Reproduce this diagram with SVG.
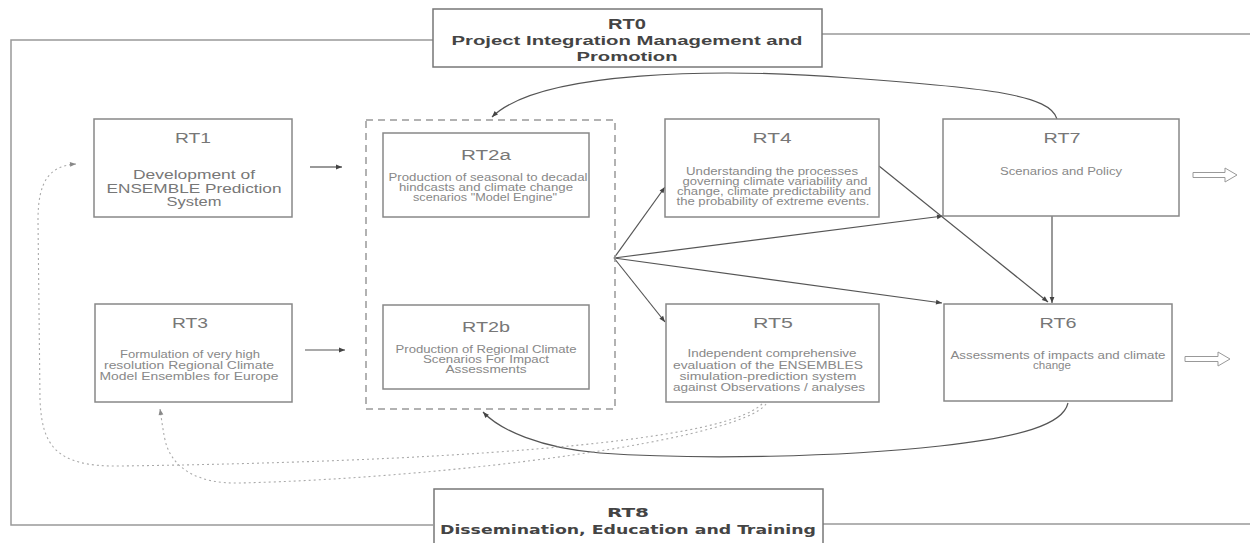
<svg xmlns="http://www.w3.org/2000/svg" width="1250" height="543" viewBox="0 0 1250 543">
<defs>
<style>
.box{fill:#fff;stroke:#888;stroke-width:1.5}
.bigbox{fill:#fff;stroke:#777;stroke-width:1.5}
.grp{fill:none;stroke:#999;stroke-width:1.5;stroke-dasharray:7,5}
.frame{fill:none;stroke:#999;stroke-width:1.5}
.t{font-family:"Liberation Sans",Arial,sans-serif;fill:#777;text-anchor:middle}
.title{font-size:14px}
.body{font-size:10px;fill:#888}
.bold{font-family:"Liberation Sans",Arial,sans-serif;font-weight:bold;fill:#444;text-anchor:middle}
.narrow{font-family:"Liberation Sans Narrow","DejaVu Sans Condensed",Arial,sans-serif;font-weight:bold;fill:#444;text-anchor:middle}
.con{fill:none;stroke:#555;stroke-width:1.2}
.dot{fill:none;stroke:#aaa;stroke-width:1.1;stroke-dasharray:2,3}
.hollow{fill:#fff;stroke:#999;stroke-width:1}
</style>
<marker id="ah" viewBox="0 0 10 10" refX="10" refY="5" markerWidth="9" markerHeight="6" markerUnits="userSpaceOnUse" orient="auto"><path d="M0,1 L10,5 L0,9 z" fill="#444"/></marker>
<marker id="ahl" viewBox="0 0 10 10" refX="10" refY="5" markerWidth="8" markerHeight="6" markerUnits="userSpaceOnUse" orient="auto"><path d="M0,1 L10,5 L0,9 z" fill="#888"/></marker>
</defs>
<rect width="1250" height="543" fill="#fff"/>

<g id="frame">
<path class="frame" d="M433,40 H11 V525 H433"/>
<path class="frame" d="M822,34 H1250"/>
<path class="frame" d="M822,524 H1250"/>
</g>

<g id="connectors">
<path class="con" d="M310,167 H342" marker-end="url(#ah)"/>
<path class="con" d="M305,350 H345" marker-end="url(#ah)"/>
<path class="con" d="M614,258 L665,187" marker-end="url(#ah)"/>
<path class="con" d="M614,258 L943,216" marker-end="url(#ah)"/>
<path class="con" d="M614,258 L942,303" marker-end="url(#ah)"/>
<path class="con" d="M614,258 L665,322" marker-end="url(#ah)"/>
<path class="con" d="M879,166 L1048,302" marker-end="url(#ah)"/>
<path class="con" d="M1052,216 V303" marker-end="url(#ah)"/>
<path class="con" d="M1057,119 C1050,95 990,88 850,78 C720,68 540,70 492,117" marker-end="url(#ah)"/>
<path class="con" d="M1068,403 C1063,425 1020,437 940,446 C840,457 700,460 600,453 C540,448 500,430 483,412" marker-end="url(#ah)"/>
<path class="dot" d="M762,404 C720,445 420,462 120,466 C55,467 42,445 40,400 L38,220 C38,180 50,166 76,164" marker-end="url(#ahl)"/>
<path class="dot" d="M766,404 C740,440 450,478 240,483 C200,484 172,470 165,440 C162,425 161,415 160,409" marker-end="url(#ahl)"/>
<polygon class="hollow" points="1193,172.5 1225,172.5 1225,168 1237,175 1225,182 1225,177.5 1193,177.5"/>
<polygon class="hollow" points="1185,356.5 1218,356.5 1218,352 1230,359 1218,366 1218,361.5 1185,361.5"/>
</g>

<g id="RT0">
<rect class="bigbox" x="433" y="9" width="389" height="58"/>
<text class="bold" x="627" y="29" font-size="15" textLength="38" lengthAdjust="spacingAndGlyphs">RT0</text>
<text class="bold" x="627" y="45" font-size="13" textLength="351" lengthAdjust="spacingAndGlyphs">Project Integration Management and</text>
<text class="bold" x="627" y="61" font-size="13" textLength="101" lengthAdjust="spacingAndGlyphs">Promotion</text>
</g>

<g id="RT8">
<rect class="bigbox" x="434" y="489" width="389" height="60"/>
<text class="narrow" x="628" y="517" font-size="13" textLength="42" lengthAdjust="spacingAndGlyphs">RT8</text>
<text class="narrow" x="628" y="534" font-size="13" textLength="376" lengthAdjust="spacingAndGlyphs">Dissemination, Education and Training</text>
</g>

<g id="RT2group">
<rect class="grp" x="366" y="120" width="249" height="289"/>
</g>

<g id="RT1">
<rect class="box" x="94" y="119" width="198" height="98"/>
<text class="t title" x="193" y="143" textLength="36" lengthAdjust="spacingAndGlyphs">RT1</text>
<text class="t" x="194" y="179" font-size="13" textLength="122" lengthAdjust="spacingAndGlyphs">Development of</text>
<text class="t" x="194" y="193" font-size="13" textLength="175" lengthAdjust="spacingAndGlyphs">ENSEMBLE Prediction</text>
<text class="t" x="194" y="206" font-size="13" textLength="55" lengthAdjust="spacingAndGlyphs">System</text>
</g>

<g id="RT2a">
<rect class="box" x="383" y="133" width="206" height="84"/>
<text class="t title" x="486" y="160" textLength="50" lengthAdjust="spacingAndGlyphs">RT2a</text>
<text class="t body" x="488" y="181" font-size="9.5" textLength="199" lengthAdjust="spacingAndGlyphs">Production of seasonal to decadal</text>
<text class="t body" x="486" y="191" font-size="9.5" textLength="174" lengthAdjust="spacingAndGlyphs">hindcasts and climate change</text>
<text class="t body" x="485" y="201" font-size="9.5" textLength="144" lengthAdjust="spacingAndGlyphs">scenarios  "Model Engine"</text>
</g>

<g id="RT2b">
<rect class="box" x="383" y="305" width="206" height="84"/>
<text class="t title" x="486" y="332" textLength="48" lengthAdjust="spacingAndGlyphs">RT2b</text>
<text class="t body" x="486" y="353" font-size="9.5" textLength="181" lengthAdjust="spacingAndGlyphs">Production of Regional Climate</text>
<text class="t body" x="486" y="363" font-size="9.5" textLength="126" lengthAdjust="spacingAndGlyphs">Scenarios For Impact</text>
<text class="t body" x="486" y="373" font-size="9.5" textLength="81" lengthAdjust="spacingAndGlyphs">Assessments</text>
</g>

<g id="RT3">
<rect class="box" x="95" y="304" width="197" height="98"/>
<text class="t title" x="190" y="328" textLength="36" lengthAdjust="spacingAndGlyphs">RT3</text>
<text class="t body" x="190" y="358" textLength="140" lengthAdjust="spacingAndGlyphs">Formulation of very high</text>
<text class="t body" x="189" y="369" textLength="170" lengthAdjust="spacingAndGlyphs">resolution Regional Climate</text>
<text class="t body" x="189" y="380" textLength="179" lengthAdjust="spacingAndGlyphs">Model Ensembles for Europe</text>
</g>

<g id="RT4">
<rect class="box" x="665" y="119" width="214" height="98"/>
<text class="t title" x="772" y="143" textLength="39" lengthAdjust="spacingAndGlyphs">RT4</text>
<text class="t body" x="772" y="175" textLength="172" lengthAdjust="spacingAndGlyphs">Understanding the processes</text>
<text class="t body" x="775" y="185" textLength="185" lengthAdjust="spacingAndGlyphs">governing climate variability and</text>
<text class="t body" x="774" y="195" textLength="194" lengthAdjust="spacingAndGlyphs">change, climate predictability and</text>
<text class="t body" x="773" y="205" textLength="193" lengthAdjust="spacingAndGlyphs">the probability of extreme events.</text>
</g>

<g id="RT7">
<rect class="box" x="943" y="119" width="236" height="97"/>
<text class="t title" x="1062" y="143" textLength="37" lengthAdjust="spacingAndGlyphs">RT7</text>
<text class="t body" x="1061" y="175" textLength="122" lengthAdjust="spacingAndGlyphs">Scenarios and Policy</text>
</g>

<g id="RT5">
<rect class="box" x="666" y="304" width="213" height="98"/>
<text class="t title" x="773" y="328" textLength="40" lengthAdjust="spacingAndGlyphs">RT5</text>
<text class="t body" x="772" y="357" textLength="169" lengthAdjust="spacingAndGlyphs">Independent comprehensive</text>
<text class="t body" x="768" y="369" textLength="190" lengthAdjust="spacingAndGlyphs">evaluation of the ENSEMBLES</text>
<text class="t body" x="768" y="380" textLength="177" lengthAdjust="spacingAndGlyphs">simulation-prediction system</text>
<text class="t body" x="769" y="391" textLength="192" lengthAdjust="spacingAndGlyphs">against Observations / analyses</text>
</g>

<g id="RT6">
<rect class="box" x="944" y="304" width="228" height="97"/>
<text class="t title" x="1058" y="328" textLength="37" lengthAdjust="spacingAndGlyphs">RT6</text>
<text class="t body" x="1058" y="359" textLength="215" lengthAdjust="spacingAndGlyphs">Assessments of impacts and climate</text>
<text class="t body" x="1052" y="369" textLength="38" lengthAdjust="spacingAndGlyphs">change</text>
</g>
</svg>
